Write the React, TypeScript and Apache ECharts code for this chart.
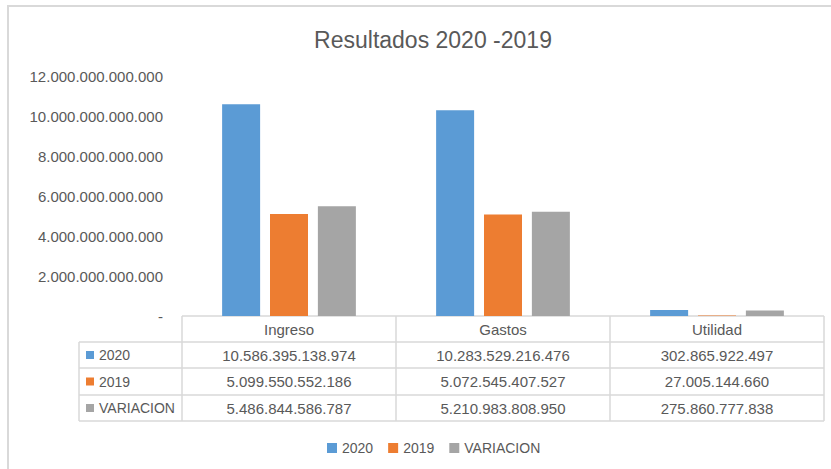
import React, { useEffect, useRef } from "react";
import * as echarts from "echarts";

const title = "Resultados 2020 -2019";
const categories = ["Ingreso", "Gastos", "Utilidad"];
const seriesNames = ["2020", "2019", "VARIACION"];
const values2020 = [10586395138974, 10283529216476, 302865922497];
const values2019 = [5099550552186, 5072545407527, 27005144660];
const valuesVar = [5486844586787, 5210983808950, 275860777838];
const colors = ["#5B9BD5", "#ED7D31", "#A5A5A5"];
const yMax = 12000000000000;
const yInterval = 2000000000000;

const fmt = (n: number) => String(Math.round(n)).replace(/\B(?=(\d{3})+(?!\d))/g, ".");

export default function App() {
  const ref = useRef<HTMLDivElement>(null);
  useEffect(() => {
    if (!ref.current) return;
    const chart = echarts.init(ref.current, null, { renderer: "svg" });
    const font = "Liberation Sans";
    const textColor = "#595959";
    const lineColor = "#D9D9D9";
    const allSeries = [values2020, values2019, valuesVar];

    // table layout
    const tLeft = 79;
    const cLeft = 182;
    const cRight = 824;
    const rows = [316, 342, 368, 395, 421];
    const colW = (cRight - cLeft) / categories.length;
    const g: any[] = [];
    // outer frame
    g.push({ type: "rect", shape: { x: 8, y: 6, width: 840, height: 480 }, style: { fill: "none", stroke: lineColor, lineWidth: 2 }, silent: true });
    // horizontal lines
    rows.forEach((y, i) => {
      g.push({ type: "line", shape: { x1: i === 0 ? cLeft : tLeft, y1: y, x2: cRight, y2: y }, style: { stroke: lineColor, lineWidth: 1.5 } });
    });
    // vertical lines
    g.push({ type: "line", shape: { x1: tLeft, y1: rows[1], x2: tLeft, y2: rows[4] }, style: { stroke: lineColor, lineWidth: 1.5 } });
    for (let i = 0; i <= categories.length; i++) {
      const x = cLeft + i * colW;
      g.push({ type: "line", shape: { x1: x, y1: rows[0], x2: x, y2: rows[4] }, style: { stroke: lineColor, lineWidth: 1.5 } });
    }
    // header
    categories.forEach((c, i) => {
      g.push({ type: "text", x: cLeft + (i + 0.5) * colW, y: (rows[0] + rows[1]) / 2, style: { text: c, fill: textColor, font: `15px '${font}'`, align: "center", verticalAlign: "middle" } });
    });
    // rows
    seriesNames.forEach((s, r) => {
      const cy = (rows[r + 1] + rows[r + 2]) / 2;
      g.push({ type: "rect", shape: { x: 86, y: cy - 4, width: 8, height: 8 }, style: { fill: colors[r] } });
      g.push({ type: "text", x: 99, y: cy, style: { text: s, fill: textColor, font: `14px '${font}'`, align: "left", verticalAlign: "middle" } });
      allSeries[r].forEach((v, i) => {
        g.push({ type: "text", x: cLeft + (i + 0.5) * colW, y: cy, style: { text: fmt(v), fill: textColor, font: `15px '${font}'`, align: "center", verticalAlign: "middle" } });
      });
    });

    chart.setOption({
      animation: false,
      backgroundColor: "#fff",
      title: {
        text: title,
        left: 428,
        textAlign: "center",
        top: 23,
        textStyle: { color: textColor, fontFamily: font, fontSize: 23, fontWeight: "normal" },
      },
      legend: {
        bottom: 9,
        left: 322,
        data: seriesNames,
        itemWidth: 10,
        itemHeight: 10,
        itemGap: 15,
        icon: "rect",
        textStyle: { color: textColor, fontFamily: font, fontSize: 14 },
      },
      grid: { left: cLeft, right: 831 - cRight, top: 76, bottom: 469 - 316 },
      xAxis: {
        type: "category",
        data: categories,
        axisLine: { show: false },
        axisTick: { show: false },
        axisLabel: { show: false },
      },
      yAxis: {
        type: "value",
        min: 0,
        max: yMax,
        interval: yInterval,
        splitLine: { show: false },
        axisLine: { show: false },
        axisTick: { show: false },
        axisLabel: {
          color: textColor,
          fontFamily: font,
          fontSize: 15,
          margin: 19,
          formatter: (v: number) => (v === 0 ? "-" : fmt(v)),
        },
      },
      series: seriesNames.map((n, i) => ({
        name: n,
        type: "bar",
        data: allSeries[i],
        barWidth: 38,
        barGap: "26%",
        itemStyle: { color: colors[i] },
      })),
      graphic: g,
    });
    return () => chart.dispose();
  }, []);
  return <div ref={ref} style={{ position: "absolute", left: 0, top: 0, width: 831, height: 469 }} />;
}
